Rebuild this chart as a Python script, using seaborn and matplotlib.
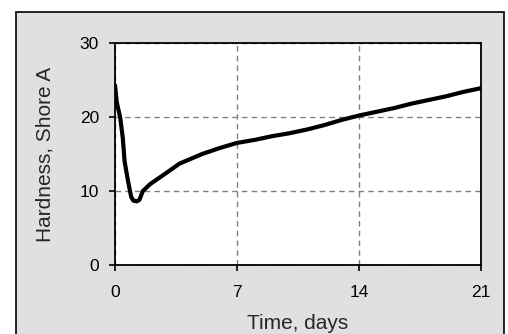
import matplotlib
matplotlib.use('Agg')
import matplotlib.pyplot as plt
import seaborn as sns
import pandas as pd
from matplotlib.patches import Rectangle

# Data
days = [0, 0.1, 0.3, 0.45, 0.55, 0.75, 0.93, 1.05, 1.25, 1.4, 1.6, 2.0, 2.55,
        3.1, 3.7, 4.2, 5, 6, 7, 8, 9, 10, 11, 12, 13, 14, 15, 16, 17, 18, 19, 20, 21]
hardness = [24.3, 22.0, 19.9, 17.1, 14.0, 11.3, 9.2, 8.7, 8.6, 8.8, 10.0, 10.9, 11.8,
            12.7, 13.7, 14.2, 15.0, 15.8, 16.5, 16.9, 17.4, 17.8, 18.3, 18.9, 19.6,
            20.2, 20.7, 21.2, 21.8, 22.3, 22.8, 23.4, 23.9]
x_ticks = [0, 7, 14, 21]
y_ticks = [0, 10, 20, 30]

df = pd.DataFrame({'days': days, 'hardness': hardness})

sns.set_style("white")
plt.rcParams['font.family'] = ['Liberation Sans', 'DejaVu Sans']

fig = plt.figure(figsize=(5.08, 3.34), dpi=100)
fig.patch.set_facecolor('white')

# gray panel with black border
panel = Rectangle((16 / 508, -0.1), (504 - 16) / 508, (334 - 12) / 334 + 0.1,
                  transform=fig.transFigure, facecolor='#e0e0e0',
                  edgecolor='black', linewidth=1.2, zorder=-5)
fig.patches.append(panel)

ax = fig.add_axes([115 / 508, (334 - 265) / 334, (481 - 115) / 508, (265 - 43) / 334])
ax.set_zorder(2)
ax.set_facecolor('white')

sns.lineplot(data=df, x='days', y='hardness', ax=ax, color='black',
             linewidth=3.0, sort=False, estimator=None)

ax.set_xlim(0, 21)
ax.set_ylim(0, 30)
ax.set_xticks(x_ticks)
ax.set_yticks(y_ticks)
ax.grid(True, color='#808080', linestyle=(0, (4, 3)), linewidth=1.0)
ax.set_axisbelow(True)

for s in ax.spines.values():
    s.set_visible(True)
    s.set_color('black')
    s.set_linewidth(1.3)

ax.tick_params(axis='both', direction='out', length=4.5, width=1.2,
               color='black', labelsize=12.5, labelcolor='black',
               bottom=True, left=True, top=False, right=False)
ax.tick_params(axis='x', pad=10)
ax.tick_params(axis='y', pad=7)

ax.set_xlabel('Time, days', fontsize=15)
ax.set_ylabel('Hardness, Shore A', fontsize=15)
ax.xaxis.set_label_coords(0.5, -0.22)
ax.yaxis.set_label_coords(-0.165, 0.5)

plt.savefig('out.png', dpi=100)
plt.close()
